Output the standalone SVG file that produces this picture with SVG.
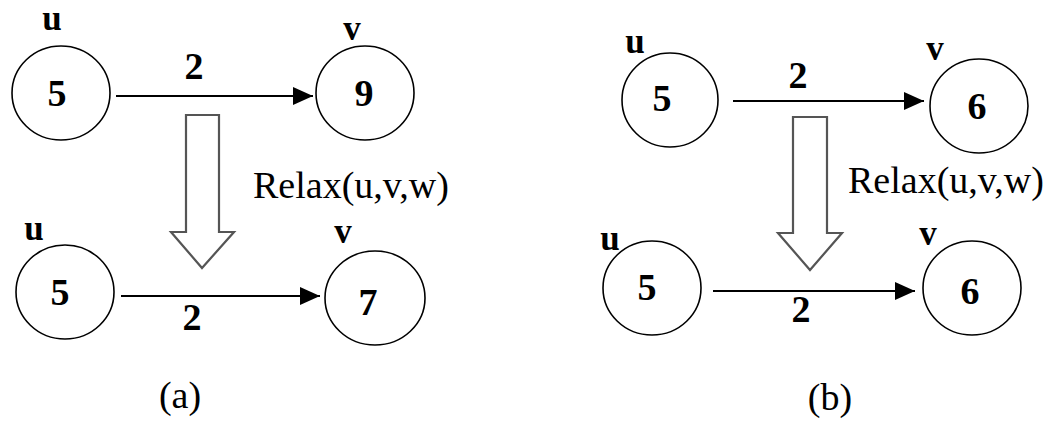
<svg xmlns="http://www.w3.org/2000/svg" width="1047" height="422" viewBox="0 0 1047 422">
<style>
.node{fill:none;stroke:#000;stroke-width:1.6}
.val{font-family:'Liberation Serif',Tinos,'Times New Roman',Times,'DejaVu Serif',serif;font-weight:bold;font-size:38px;text-anchor:middle;fill:#000}
.lab{font-family:'Liberation Serif',Tinos,'Times New Roman',Times,'DejaVu Serif',serif;font-weight:bold;font-size:35px;text-anchor:middle;fill:#000}
.edge{stroke:#000;stroke-width:2;fill:none}
.hollow{fill:#fff;stroke:#555;stroke-width:2.2;stroke-linejoin:miter}
.txt{font-family:'Liberation Serif',Tinos,'Times New Roman',Times,'DejaVu Serif',serif;font-size:38px;fill:#000}
</style>
<defs>
<marker id="ah" markerWidth="20" markerHeight="18" refX="20" refY="9" orient="auto" markerUnits="userSpaceOnUse">
<path d="M0,0 L20,9 L0,18 Z" fill="#000"/>
</marker>
</defs>
<g id="connectors">
<line class="edge" x1="116" y1="96" x2="313" y2="96" marker-end="url(#ah)"/>
<line class="edge" x1="121" y1="296" x2="320" y2="296" marker-end="url(#ah)"/>
<line class="edge" x1="733" y1="101" x2="924" y2="101" marker-end="url(#ah)"/>
<line class="edge" x1="713" y1="291" x2="915" y2="291" marker-end="url(#ah)"/>
<text class="val" x="194" y="79">2</text>
<text class="val" x="192" y="330">2</text>
<text class="val" x="798" y="88">2</text>
<text class="val" x="801" y="322">2</text>
</g>
<g id="a-u-top"><ellipse class="node" cx="61" cy="93" rx="49" ry="47"/><text class="val" x="57" y="106">5</text><text class="lab" x="52" y="30">u</text></g>
<g id="a-v-top"><ellipse class="node" cx="365" cy="93" rx="49" ry="47"/><text class="val" x="364" y="106">9</text><text class="lab" x="352" y="40">v</text></g>
<g id="a-u-bot"><ellipse class="node" cx="65" cy="292" rx="49" ry="47"/><text class="val" x="60" y="305">5</text><text class="lab" x="34" y="240">u</text></g>
<g id="a-v-bot"><ellipse class="node" cx="375" cy="298" rx="50" ry="47"/><text class="val" x="368" y="315">7</text><text class="lab" x="343" y="243">v</text></g>
<g id="a-relax">
<path class="hollow" d="M186,115 L219,115 L219,232 L234,232 L202,268 L171,232 L186,232 Z"/>
<text class="txt" x="253" y="198">Relax(u,v,w)</text>
</g>
<text class="txt" x="180" y="408" text-anchor="middle">(a)</text>
<g id="b-u-top"><ellipse class="node" cx="670" cy="100" rx="48" ry="47"/><text class="val" x="662" y="111">5</text><text class="lab" x="635" y="53">u</text></g>
<g id="b-v-top"><ellipse class="node" cx="979" cy="106" rx="49" ry="47"/><text class="val" x="977" y="119">6</text><text class="lab" x="935" y="60">v</text></g>
<g id="b-u-bot"><ellipse class="node" cx="652" cy="288" rx="49" ry="47"/><text class="val" x="647" y="300">5</text><text class="lab" x="610" y="250">u</text></g>
<g id="b-v-bot"><ellipse class="node" cx="972" cy="288" rx="49" ry="47"/><text class="val" x="970" y="304">6</text><text class="lab" x="928" y="245">v</text></g>
<g id="b-relax">
<path class="hollow" d="M793,117 L827,117 L827,233 L842,233 L810,270 L778,233 L793,233 Z"/>
<text class="txt" x="848" y="193">Relax(u,v,w)</text>
</g>
<text class="txt" x="830" y="410" text-anchor="middle">(b)</text>
</svg>
